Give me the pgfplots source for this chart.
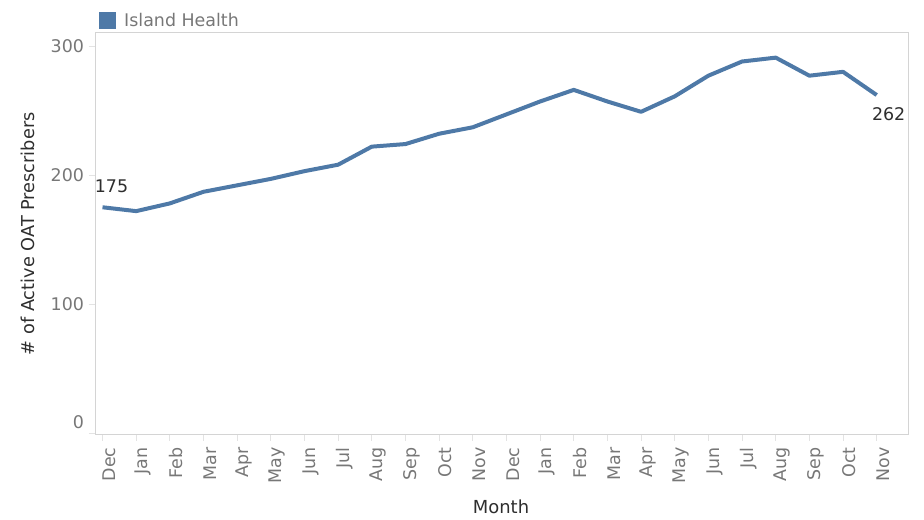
\documentclass[border=0pt]{standalone}
\usepackage{fontspec}
\setmainfont{DejaVu Sans}
\usepackage{pgfplots}
\pgfplotsset{compat=1.18}
\definecolor{tabblue}{HTML}{4E79A7}
\definecolor{ticktext}{HTML}{777777}
\definecolor{titletext}{HTML}{2E2E2E}
\definecolor{boxgray}{HTML}{D4D4D4}
\definecolor{tickgray}{HTML}{E3E3E3}
\begin{document}
\begin{tikzpicture}
\path[use as bounding box] (0,0) rectangle (924bp,520bp);
\begin{axis}[
  at={(95bp,85.5bp)}, anchor=south west,
  scale only axis, width=813bp, height=401.5bp,
  xmin=-0.223, xmax=23.93, ymin=-1.16, ymax=310.1,
  axis line style={boxgray, line width=1bp},
  xtick={0,...,23},
  xticklabels={Dec,Jan,Feb,Mar,Apr,May,Jun,Jul,Aug,Sep,Oct,Nov,Dec,Jan,Feb,Mar,Apr,May,Jun,Jul,Aug,Sep,Oct,Nov},
  ytick={100,200,300},
  extra y ticks={0}, extra y tick labels={0},
  extra y tick style={yticklabel style={yshift=11bp}},
  tick align=outside, tick pos=left,
  major tick length=6.5bp,
  tick style={tickgray, line width=1bp},
  /pgf/number format/assume math mode=true,
  ticklabel style={font=\fontsize{17.5}{20}\selectfont, text=ticktext},
  xticklabel style={xshift=6.5bp, yshift=-3bp, rotate=90, anchor=east},
  yticklabel style={xshift=-1bp},
  ylabel={\# of Active OAT Prescribers},
  ylabel style={at={(axis description cs:-0.0824,0.5)}, anchor=center, font=\fontsize{17.8}{20}\selectfont, text=titletext},
  xlabel={Month},
  xlabel style={at={(axis description cs:0.4994,-0.1806)}, anchor=center, font=\fontsize{18}{20}\selectfont, text=titletext},
  legend style={at={(axis description cs:0,1)}, anchor=south west, xshift=4bp, yshift=3bp, draw=none, fill=none,
    font=\fontsize{17.5}{20}\selectfont, text=ticktext, inner sep=0pt, row sep=0pt,
    /tikz/every odd column/.style={column sep=6bp}},
  legend image code/.code={\fill[tabblue, draw=none] (0bp,-8.5bp) rectangle (17bp,8.5bp);},
  legend cell align=left,
  clip=false,
]
\addplot[tabblue, line width=4bp, line join=round] coordinates {
(0,175) (1,172) (2,178) (3,187) (4,192) (5,197) (6,203) (7,208)
(8,222) (9,224) (10,232) (11,237) (12,247) (13,257) (14,266) (15,257)
(16,249) (17,261) (18,277) (19,288) (20,291) (21,277) (22,280) (23,262)
};
\addlegendentry{Island Health}
\node[font=\fontsize{17.5}{20}\selectfont, text=titletext, anchor=center, xshift=9bp, yshift=20.5bp] at (axis cs:0,175) {175};
\node[font=\fontsize{17.5}{20}\selectfont, text=titletext, anchor=center, xshift=12bp, yshift=-19bp] at (axis cs:23,262) {262};
\end{axis}
\end{tikzpicture}
\end{document}
